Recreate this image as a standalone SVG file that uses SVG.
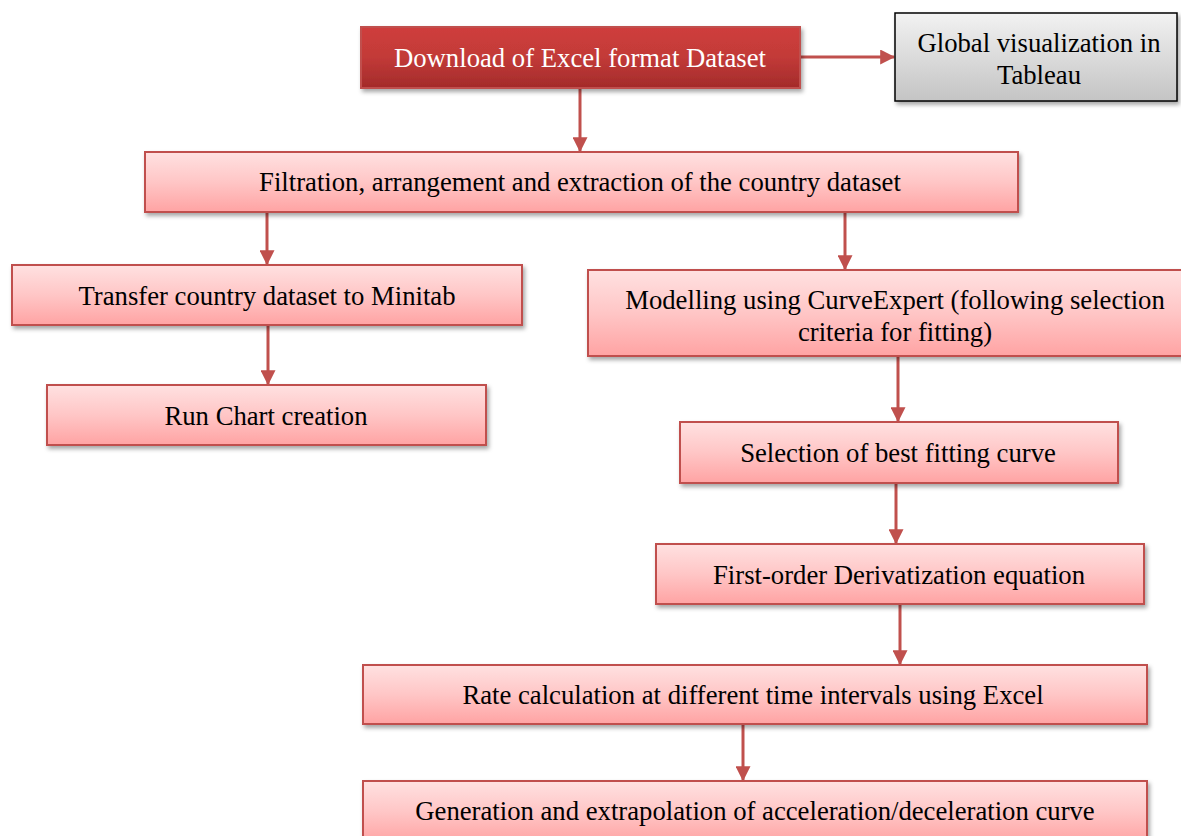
<svg xmlns="http://www.w3.org/2000/svg" width="1181" height="836" viewBox="0 0 1181 836">
<style>
.box{fill:url(#pink);stroke:#c0504d;stroke-width:2;filter:url(#sh)}
.t{font-family:"Liberation Serif","Times New Roman",serif;font-size:26.7px;fill:#000;text-anchor:middle}
.c{stroke:#c0504d;stroke-width:3;fill:none;marker-end:url(#ah)}
</style>
<defs>
<linearGradient id="pink" x1="0" y1="0" x2="0" y2="1">
<stop offset="0" stop-color="#ffe1e1"/><stop offset="0.5" stop-color="#ffc6c6"/><stop offset="1" stop-color="#ffa3a3"/>
</linearGradient>
<linearGradient id="red" x1="0" y1="0" x2="0" y2="1">
<stop offset="0" stop-color="#cf3e3c"/><stop offset="0.5" stop-color="#c23a38"/><stop offset="1" stop-color="#a32b2a"/>
</linearGradient>
<linearGradient id="grey" x1="0" y1="0" x2="0" y2="1">
<stop offset="0" stop-color="#f2f2f2"/><stop offset="1" stop-color="#c4c4c4"/>
</linearGradient>
<filter id="sh" x="-5%" y="-20%" width="112%" height="150%">
<feDropShadow dx="2" dy="3" stdDeviation="2" flood-color="#000" flood-opacity="0.35"/>
</filter>
<marker id="ah" markerWidth="5" markerHeight="5" refX="4.6" refY="2.5" orient="auto" markerUnits="strokeWidth" viewBox="0 0 5 5">
<path d="M0,0 L5,2.5 L0,5 z" fill="#c0504d"/>
</marker>
</defs>
<g id="connectors">
<line class="c" x1="800" y1="57" x2="894" y2="57"/>
<line class="c" x1="580" y1="89" x2="580" y2="151"/>
<line class="c" x1="267" y1="213" x2="267" y2="264"/>
<line class="c" x1="845" y1="213" x2="845" y2="269"/>
<line class="c" x1="268" y1="326" x2="268" y2="384"/>
<line class="c" x1="898" y1="356" x2="898" y2="421"/>
<line class="c" x1="896" y1="484" x2="896" y2="543"/>
<line class="c" x1="900" y1="605" x2="900" y2="664"/>
<line class="c" x1="743" y1="725" x2="743" y2="780"/>
</g>
<g id="n-download">
<rect x="361" y="27" width="439" height="61" fill="url(#red)" stroke="#c0504d" stroke-width="2" filter="url(#sh)"/>
<text class="t" x="580" y="67" style="fill:#fff">Download of Excel format Dataset</text>
</g>
<g id="n-global">
<rect x="895" y="13" width="282" height="88" fill="url(#grey)" stroke="#000" stroke-width="1.5" filter="url(#sh)"/>
<text class="t" x="1039" y="52">Global visualization in</text>
<text class="t" x="1039" y="84">Tableau</text>
</g>
<g id="n-filtration">
<rect class="box" x="145" y="152" width="873" height="60"/>
<text class="t" x="580" y="191">Filtration, arrangement and extraction of the country dataset</text>
</g>
<g id="n-transfer">
<rect class="box" x="12" y="265" width="510" height="60"/>
<text class="t" x="267" y="305">Transfer country dataset to Minitab</text>
</g>
<g id="n-runchart">
<rect class="box" x="47" y="385" width="439" height="60"/>
<text class="t" x="266" y="425">Run Chart creation</text>
</g>
<g id="n-modelling">
<rect class="box" x="588" y="270" width="596" height="86"/>
<text class="t" x="895" y="309">Modelling using CurveExpert (following selection</text>
<text class="t" x="895" y="341">criteria for fitting)</text>
</g>
<g id="n-selection">
<rect class="box" x="680" y="422" width="438" height="61"/>
<text class="t" x="898" y="462">Selection of best fitting curve</text>
</g>
<g id="n-firstorder">
<rect class="box" x="656" y="544" width="488" height="60"/>
<text class="t" x="899" y="584">First-order Derivatization equation</text>
</g>
<g id="n-rate">
<rect class="box" x="363" y="665" width="784" height="59"/>
<text class="t" x="753" y="704">Rate calculation at different time intervals using Excel</text>
</g>
<g id="n-generation">
<rect class="box" x="363" y="781" width="784" height="62"/>
<text class="t" x="755" y="820">Generation and extrapolation of acceleration/deceleration curve</text>
</g>
</svg>
